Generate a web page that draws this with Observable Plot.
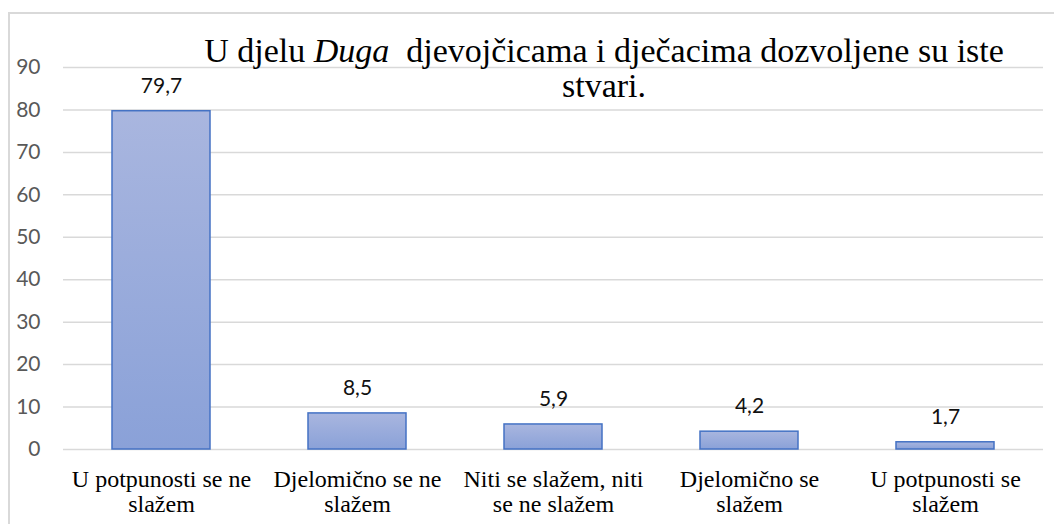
<!DOCTYPE html>
<html>
<head>
<meta charset="utf-8">
<script src="https://cdn.jsdelivr.net/npm/d3@7"></script>
<script src="https://cdn.jsdelivr.net/npm/@observablehq/plot@0.6"></script>
<style>
  html, body { margin: 0; padding: 0; background: #fff; overflow: hidden; }
  #wrap { position: relative; width: 1054px; height: 524px; }
  #border { position: absolute; left: 8px; top: 12px; width: 1100px; height: 600px;
            border-left: 2px solid #d9d9d9; border-top: 2px solid #d9d9d9; box-sizing: border-box; }
  #chart { position: absolute; left: 0; top: 0; }
  #title { position: absolute; left: 154px; width: 900px; top: 33px; text-align: center;
           font-family: "Liberation Serif", "Times New Roman", serif; font-size: 34px; line-height: 35px;
           color: #000; white-space: pre; }
</style>
</head>
<body>
<div id="wrap"><div id="border"></div><div id="chart"></div><div id="title"></div></div>
<script>
const categories = [
  "U potpunosti se ne slažem",
  "Djelomično se ne slažem",
  "Niti se slažem, niti se ne slažem",
  "Djelomično se slažem",
  "U potpunosti se slažem"
];
const tickLabels = [
  "U potpunosti se ne\nslažem",
  "Djelomično se ne\nslažem",
  "Niti se slažem, niti\nse ne slažem",
  "Djelomično se\nslažem",
  "U potpunosti se\nslažem"
];
const values = [79.7, 8.5, 5.9, 4.2, 1.7];
const valueLabels = ["79,7", "8,5", "5,9", "4,2", "1,7"];
const yTicks = [0, 10, 20, 30, 40, 50, 60, 70, 80, 90];
const titleParts = [
  {text: "U djelu ", italic: false},
  {text: "Duga", italic: true},
  {text: "  djevojčicama i dječacima dozvoljene su iste", italic: false}
];
const titleLine2 = "stvari.";

const data = categories.map((c, i) => ({cat: c, value: values[i], label: valueLabels[i], tick: tickLabels[i]}));
const tickMap = new Map(data.map(d => [d.cat, d.tick]));

const sans = "Lato, 'Open Sans', sans-serif";
const serif = "Liberation Serif";

const chart = Plot.plot({
  width: 1054,
  height: 524,
  marginLeft: 63,
  marginRight: 11,
  marginTop: 67,
  marginBottom: 75,
  style: {background: "transparent", overflow: "visible"},
  x: {domain: categories, paddingInner: 0.5, paddingOuter: 0.25, label: null},
  y: {domain: [0, 90], ticks: yTicks, label: null},
  marks: [
    Plot.ruleY(yTicks, {stroke: "#d9d9d9", strokeWidth: 1.5}),
    Plot.barY(data, {x: "cat", y: "value", fill: "url(#barGrad)", stroke: "#4472c4", strokeWidth: 1.5}),
    Plot.text(data, {x: "cat", y: "value", text: "label", dy: -25, fontSize: 21, fontFamily: sans, fill: "#111"}),
    Plot.axisY({ticks: yTicks, tickSize: 0, tickPadding: 23, fontSize: 21, fontFamily: sans, color: "#595959", label: null, tickFormat: d => String(d)}),
    Plot.axisX({tickSize: 0, tickPadding: 20, fontSize: 24, fontFamily: serif, color: "#000", lineHeight: 1.04, label: null, tickFormat: d => tickMap.get(d)})
  ]
});

document.getElementById("chart").appendChild(chart);

const svg = d3.select(chart);
const grad = svg.insert("defs", ":first-child").append("linearGradient")
  .attr("id", "barGrad").attr("x1", 0).attr("y1", 0).attr("x2", 0).attr("y2", 1);
grad.append("stop").attr("offset", "0%").attr("stop-color", "#a9b6df");
grad.append("stop").attr("offset", "100%").attr("stop-color", "#8aa1d8");

const title = d3.select("#title");
titleParts.forEach(p => {
  title.append("span").style("font-style", p.italic ? "italic" : "normal").text(p.text);
});
title.append("br");
title.append("span").text(titleLine2);
</script>
</body>
</html>
